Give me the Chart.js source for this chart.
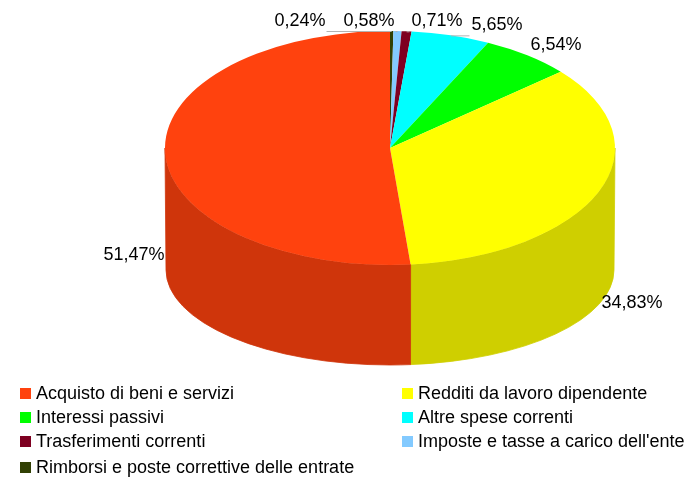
<!DOCTYPE html>
<html>
<head>
<meta charset="utf-8">
<script src="https://cdn.jsdelivr.net/npm/chart.js@4/dist/chart.umd.min.js"></script>
<style>
  html, body { margin: 0; padding: 0; background: #fff; }
  #wrap { position: relative; width: 689px; height: 477px; font-family: "Liberation Sans", Arial, sans-serif; }
  #pie { position: absolute; left: 0; top: 0; }
  .leg { position: absolute; font-size: 18px; color: #000; white-space: nowrap; line-height: 20px; }
  .leg i { display: inline-block; width: 11px; height: 11px; margin-right: 5px; vertical-align: 0px; }
</style>
</head>
<body>
<div id="wrap">
  <canvas id="pie" width="689" height="477"></canvas>
</div>
<script>
// categorie (ordine legenda)
const categories = [
    'Acquisto di beni e servizi',
    'Redditi da lavoro dipendente',
    'Interessi passivi',
    'Altre spese correnti',
    'Trasferimenti correnti',
    "Imposte e tasse a carico dell'ente",
    'Rimborsi e poste correttive delle entrate'
];
// percentuali
const percentages = [51.47, 34.83, 6.54, 5.65, 0.71, 0.58, 0.24];
const colors = ['#ff420e', '#ffff00', '#00ff00', '#00ffff', '#7e0021', '#83caff', '#314004'];

// geometria del "3D" (ellisse superiore e inferiore)
const TOP = { x: 390, y: 148, rx: 225, ry: 117 };
const BOTTOM = { x: 390, y: 270, rx: 224, ry: 95 };

// posizione etichette (centro testo), stesso ordine delle categorie
const labelPos = [[134, 255], [632, 303], [556, 45], [497, 25], [437, 21], [369, 21], [300, 21]];
const leaderIdx = [3, 4, 5, 6];

// legenda: colonna x, riga y
const legendCols = [20, 402];
const legendRows = [393, 417, 441, 467];

function darker(hex, f) {
    const n = parseInt(hex.slice(1), 16);
    const r = Math.round(((n >> 16) & 255) * f);
    const g = Math.round(((n >> 8) & 255) * f);
    const b = Math.round((n & 255) * f);
    return `rgb(${r},${g},${b})`;
}

function fmt(v) {
    return v.toFixed(2).replace('.', ',') + '%';
}

// la torta va in senso orario dall'alto partendo dall'ultima voce
const pieLabels = categories.slice().reverse();
const pieData = percentages.slice().reverse();
const pieColors = colors.slice().reverse();

const pie3d = {
    id: 'pie3d',
    beforeDatasetsDraw(chart) {
        const ctx = chart.ctx;
        const arcs = chart.getDatasetMeta(0).data;
        const a0 = arcs[0];
        // pareti laterali
        arcs.forEach((arc, i) => {
            const a = Math.max(arc.startAngle, 0);
            const b = Math.min(arc.endAngle, Math.PI);
            if (a >= b) return;
            ctx.beginPath();
            ctx.ellipse(TOP.x, TOP.y, TOP.rx, TOP.ry, 0, a, b, false);
            ctx.ellipse(BOTTOM.x, BOTTOM.y, BOTTOM.rx, BOTTOM.ry, 0, b, a, true);
            ctx.closePath();
            ctx.fillStyle = ctx.strokeStyle = darker(pieColors[i], 0.81);
            ctx.lineWidth = 0.8;
            ctx.fill();
            ctx.stroke();
        });
        // faccia superiore: cerchio -> ellisse
        ctx.save();
        ctx.translate(TOP.x, TOP.y);
        ctx.scale(TOP.rx / a0.outerRadius, TOP.ry / a0.outerRadius);
        ctx.translate(-a0.x, -a0.y);
    },
    afterDatasetsDraw(chart) {
        const ctx = chart.ctx;
        ctx.restore();
        const arcs = chart.getDatasetMeta(0).data;
        ctx.font = '18px "Liberation Sans", Arial, sans-serif';
        ctx.textAlign = 'center';
        ctx.textBaseline = 'middle';
        percentages.forEach((v, i) => {
            const arc = arcs[arcs.length - 1 - i];
            const [lx, ly] = labelPos[i];
            const txt = fmt(v);
            if (leaderIdx.includes(i)) {
                const mid = (arc.startAngle + arc.endAngle) / 2;
                const px = TOP.x + TOP.rx * Math.cos(mid);
                const py = TOP.y + TOP.ry * Math.sin(mid);
                const w = ctx.measureText(txt).width;
                const ex = px > lx ? lx + w / 2 + 1 : lx - w / 2 - 2;
                ctx.beginPath();
                ctx.moveTo(px, py + 0.5);
                ctx.lineTo(ex, py + 0.5);
                ctx.strokeStyle = '#b3b3b3';
                ctx.lineWidth = 1;
                ctx.stroke();
            }
            ctx.fillStyle = '#000';
            ctx.fillText(txt, lx, ly);
        });
    }
};

new Chart(document.getElementById('pie'), {
    type: 'pie',
    data: {
        labels: pieLabels,
        datasets: [{ data: pieData, backgroundColor: pieColors, borderWidth: 0 }]
    },
    options: {
        responsive: false,
        animation: false,
        events: [],
        layout: { padding: 20 },
        plugins: { legend: { display: false }, tooltip: { enabled: false } }
    },
    plugins: [pie3d]
});

// legenda HTML a due colonne
const wrap = document.getElementById('wrap');
categories.forEach((name, i) => {
    const d = document.createElement('div');
    d.className = 'leg';
    d.style.left = legendCols[i % 2] + 'px';
    d.style.top = (legendRows[Math.floor(i / 2)] - 10) + 'px';
    d.innerHTML = `<i style="background:${colors[i]}"></i>${name}`;
    wrap.appendChild(d);
});
</script>
</body>
</html>
